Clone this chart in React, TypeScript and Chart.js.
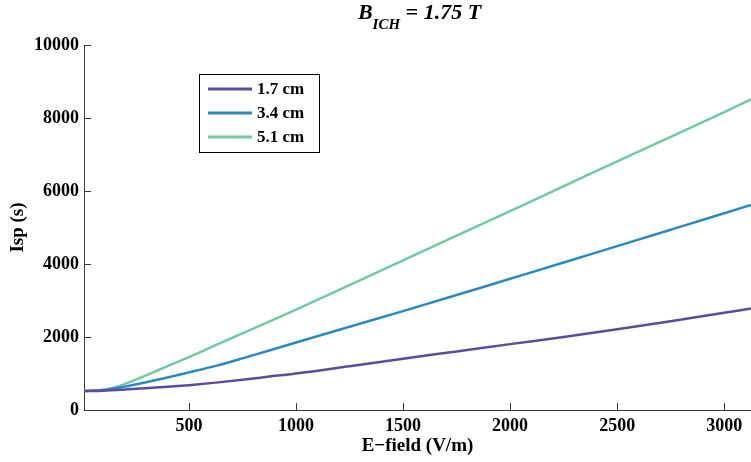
import React, { useEffect, useRef } from "react";
import { Chart, registerables } from "chart.js";

Chart.register(...registerables);

const eField = [10, 100, 200, 300, 400, 500, 625, 750, 875, 1000, 1250, 1500, 1750, 2000, 2250, 2500, 2750, 3000, 3125];
const isp17 = [520, 530, 560, 597, 635, 680, 750, 830, 915, 1000, 1200, 1405, 1605, 1805, 2000, 2210, 2430, 2665, 2780];
const isp34 = [520, 545, 640, 760, 890, 1030, 1210, 1415, 1630, 1850, 2280, 2710, 3150, 3595, 4040, 4490, 4940, 5390, 5615];
const isp51 = [520, 555, 710, 950, 1200, 1450, 1780, 2100, 2420, 2750, 3420, 4100, 4780, 5450, 6130, 6810, 7480, 8160, 8510];

const seriesLabels = ["1.7 cm", "3.4 cm", "5.1 cm"];
const seriesColors = ["rgb(93,75,160)", "rgb(45,137,192)", "rgb(116,200,162)"];
const xTickValues = [500, 1000, 1500, 2000, 2500, 3000];
const yTickValues = [0, 2000, 4000, 6000, 8000, 10000];

const FONT = "'Liberation Serif', 'Times New Roman', serif";
const AXIS_COLOR = "#3a3a3a";

const inwardTicks = {
  id: "inwardTicks",
  afterDraw(chart: any) {
    const { ctx, chartArea, scales } = chart;
    ctx.save();
    ctx.strokeStyle = AXIS_COLOR;
    ctx.lineWidth = 1;
    ctx.beginPath();
    for (const v of xTickValues) {
      const px = Math.round(scales.x.getPixelForValue(v)) + 0.5;
      ctx.moveTo(px, chartArea.bottom);
      ctx.lineTo(px, chartArea.bottom - 7);
    }
    for (const v of yTickValues) {
      const py = Math.round(scales.y.getPixelForValue(v)) + 0.5;
      ctx.moveTo(chartArea.left, py);
      ctx.lineTo(chartArea.left + 7, py);
    }
    ctx.stroke();
    ctx.restore();
  },
};

const customTitle = {
  id: "customTitle",
  afterDraw(chart: any) {
    const { ctx, chartArea } = chart;
    ctx.save();
    ctx.fillStyle = "#000";
    ctx.textBaseline = "alphabetic";
    const mainFont = `italic bold 22px ${FONT}`;
    const subFont = `italic bold 15px ${FONT}`;
    const partB = "B";
    const partSub = "ICH";
    const partRest = " = 1.75 T";
    ctx.font = mainFont;
    const wB = ctx.measureText(partB).width;
    const wRest = ctx.measureText(partRest).width;
    ctx.font = subFont;
    const wSub = ctx.measureText(partSub).width;
    const total = wB + wSub + wRest;
    let x = (chartArea.left + chartArea.right) / 2 - total / 2 + 2;
    const baseY = 19;
    ctx.font = mainFont;
    ctx.fillText(partB, x, baseY);
    x += wB;
    ctx.font = subFont;
    ctx.fillText(partSub, x, baseY + 10);
    x += wSub;
    ctx.font = mainFont;
    ctx.fillText(partRest, x, baseY);
    ctx.restore();
  },
};

const boxLegend = {
  id: "boxLegend",
  afterDatasetsDraw(chart: any) {
    const { ctx, chartArea } = chart;
    const left = chartArea.left + 115;
    const top = chartArea.top + 29;
    const w = 120;
    const h = 78;
    ctx.save();
    ctx.fillStyle = "#fff";
    ctx.fillRect(left, top, w, h);
    ctx.strokeStyle = "#000";
    ctx.lineWidth = 1;
    ctx.strokeRect(left + 0.5, top + 0.5, w, h);
    ctx.font = `bold 17px ${FONT}`;
    ctx.textBaseline = "middle";
    ctx.textAlign = "left";
    chart.data.datasets.forEach((ds: any, i: number) => {
      const y = top + 15 + i * 24;
      ctx.strokeStyle = ds.borderColor;
      ctx.lineWidth = 3;
      ctx.beginPath();
      ctx.moveTo(left + 9, y);
      ctx.lineTo(left + 53, y);
      ctx.stroke();
      ctx.fillStyle = "#000";
      ctx.fillText(ds.label, left + 58, y + 1);
    });
    ctx.restore();
  },
};

export default function App() {
  const ref = useRef<HTMLCanvasElement>(null);

  useEffect(() => {
    if (!ref.current) return;
    const seriesValues = [isp17, isp34, isp51];
    const chart = new Chart(ref.current, {
      type: "line",
      data: {
        datasets: seriesValues.map((vals, i) => ({
          label: seriesLabels[i],
          data: eField.map((e, j) => ({ x: e, y: vals[j] })),
          borderColor: seriesColors[i],
          backgroundColor: seriesColors[i],
          borderWidth: 2.5,
          pointRadius: 0,
          cubicInterpolationMode: "monotone" as const,
          fill: false,
        })),
      },
      options: {
        animation: false,
        responsive: false,
        devicePixelRatio: 1,
        layout: { padding: { top: 45, left: 0, right: 0, bottom: 0 }, autoPadding: false },
        plugins: {
          legend: { display: false },
          title: { display: false },
          tooltip: { enabled: false },
        },
        scales: {
          x: {
            type: "linear",
            min: 10,
            max: 3125,
            afterBuildTicks: (scale: any) => {
              scale.ticks = xTickValues.map((v) => ({ value: v }));
            },
            afterFit: (scale: any) => {
              scale.height = 52;
            },
            grid: { display: false, drawTicks: false },
            border: { display: true, color: AXIS_COLOR, width: 1 },
            ticks: {
              color: "#000",
              padding: 6,
              maxRotation: 0,
              autoSkip: false,
              callback: (v: any) => String(v),
              font: { family: FONT, size: 18, weight: "bold" },
            },
            title: {
              display: true,
              text: "E\u2212field (V/m)",
              color: "#000",
              padding: { top: 0, bottom: 5 },
              font: { family: FONT, size: 19, weight: "bold" },
            },
          },
          y: {
            type: "linear",
            min: 0,
            max: 10000,
            afterBuildTicks: (scale: any) => {
              scale.ticks = yTickValues.map((v) => ({ value: v }));
            },
            afterFit: (scale: any) => {
              scale.width = 84;
            },
            grid: { display: false, drawTicks: false },
            border: { display: true, color: AXIS_COLOR, width: 1 },
            ticks: {
              color: "#000",
              padding: 5,
              autoSkip: false,
              callback: (v: any) => String(v),
              font: { family: FONT, size: 18, weight: "bold" },
            },
            title: {
              display: true,
              text: "Isp (s)",
              color: "#000",
              padding: { top: 7, bottom: 0 },
              font: { family: FONT, size: 19, weight: "bold" },
            },
          },
        },
      },
      plugins: [inwardTicks, customTitle, boxLegend],
    });
    return () => chart.destroy();
  }, []);

  return (
    <div style={{ position: "absolute", left: 0, top: 0, width: 751, height: 462, background: "#fff" }}>
      <canvas ref={ref} width={751} height={462} />
    </div>
  );
}
